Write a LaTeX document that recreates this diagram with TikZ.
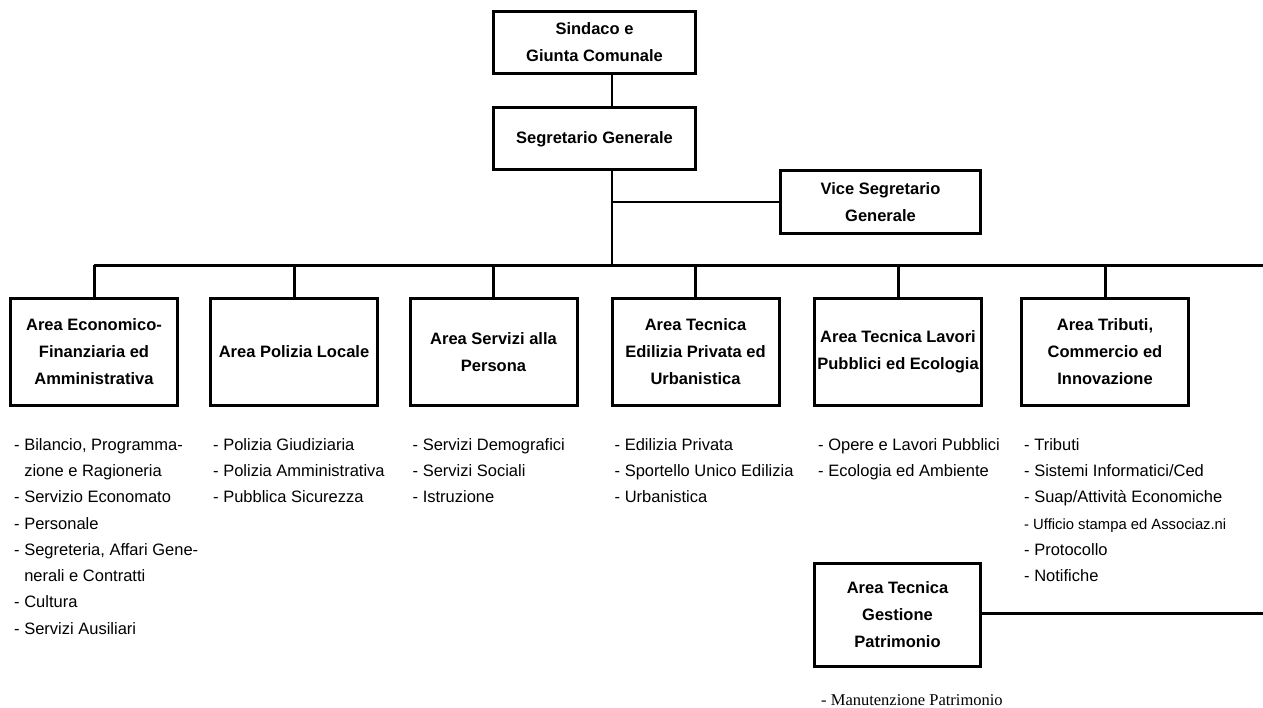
\documentclass[tikz,border=0pt]{standalone}
\usepackage{fontspec}
\setmainfont{Liberation Serif}
\setsansfont{Liberation Sans}
\usetikzlibrary{positioning}

\begin{document}
\begin{tikzpicture}[
    x=1pt, y=-1pt,
    box/.style={draw, line width=3pt, align=center, inner sep=0pt,
        font=\sffamily\bfseries\fontsize{16.5}{27}\selectfont},
    area/.style={box, minimum width=167pt, minimum height=107pt},
    lst/.style={anchor=north west, align=left, inner sep=0pt,
        font=\sffamily\fontsize{16.5}{26.3}\selectfont},
    lnk/.style={line width=2.6pt},
]
\useasboundingbox (0,0) rectangle (1263,708);
% vertice
\node[box, minimum width=202pt, minimum height=62pt] (sindaco) at (594.5,42.5) {Sindaco e\\Giunta Comunale};
\node[box, minimum width=202pt, minimum height=62pt] (segr) at (594.5,139) {Segretario Generale};
\node[box, line width=2.6pt, minimum width=200pt, minimum height=63pt] (vice) at (880.5,202) {Vice Segretario\\Generale};
\coordinate (trunk) at (612,0);
\coordinate (bus) at (0,265.5);
\coordinate (busend) at (1263,265.5);
% aree
\node[area] (a1) at (94,352) {Area Economico-\\Finanziaria ed\\Amministrativa};
\node[area] (a2) at (294,352) {Area Polizia Locale};
\node[area] (a3) at (493.5,352) {Area Servizi alla\\Persona};
\node[area] (a4) at (695.5,352) {Area Tecnica\\Edilizia Privata ed\\Urbanistica};
\node[area] (a5) at (898,352) {Area Tecnica Lavori\\Pubblici ed Ecologia};
\node[area] (a6) at (1105,352) {Area Tributi,\\Commercio ed\\Innovazione};
\node[area, minimum width=166pt, minimum height=103pt] (gest) at (897.5,615) {Area Tecnica\\Gestione\\Patrimonio};
\coordinate (gestend) at (1263,613);
% collegamenti
\draw[line width=2pt] (trunk |- sindaco.south) -- (trunk |- segr.north);
\draw[lnk] (trunk |- segr.south) -- (trunk |- bus);
\draw[lnk] (trunk |- vice.west) -- (vice.west);
\draw[line width=3pt] (a1.north |- bus) -- (busend);
\foreach \a in {a1,a2,a3,a4,a5,a6}
    \draw[line width=3pt] (\a.north |- bus) -- (\a.north);
\draw[line width=3pt] (gest.east |- gestend) -- (gestend);
% uffici
\node[lst, below right=31pt and 5pt of a1.south west] (l1) {- Bilancio, Programma-\\\hphantom{- }zione e Ragioneria\\- Servizio Economato\\- Personale\\- Segreteria, Affari Gene-\\\hphantom{- }nerali e Contratti\\- Cultura\\- Servizi Ausiliari};
\node[lst, below right=31pt and 4pt of a2.south west] (l2) {- Polizia Giudiziaria\\- Polizia Amministrativa\\- Pubblica Sicurezza};
\node[lst, below right=31pt and 4pt of a3.south west] (l3) {- Servizi Demografici\\- Servizi Sociali\\- Istruzione};
\node[lst, below right=31pt and 4pt of a4.south west] (l4) {- Edilizia Privata\\- Sportello Unico Edilizia\\- Urbanistica};
\node[lst, below right=31pt and 5pt of a5.south west] (l5) {- Opere e Lavori Pubblici\\- Ecologia ed Ambiente};
\node[lst, below right=31pt and 4pt of a6.south west] (l6) {- Tributi\\- Sistemi Informatici/Ced\\- Suap/Attività Economiche\\{\fontsize{14.8}{26.3}\selectfont - Ufficio stampa ed Associaz.ni}\\- Protocollo\\- Notifiche};
\node[lst, font=\rmfamily\fontsize{16.5}{20}\selectfont, below right=26pt and 8pt of gest.south west] (l7) {- Manutenzione Patrimonio};
\end{tikzpicture}
\end{document}
